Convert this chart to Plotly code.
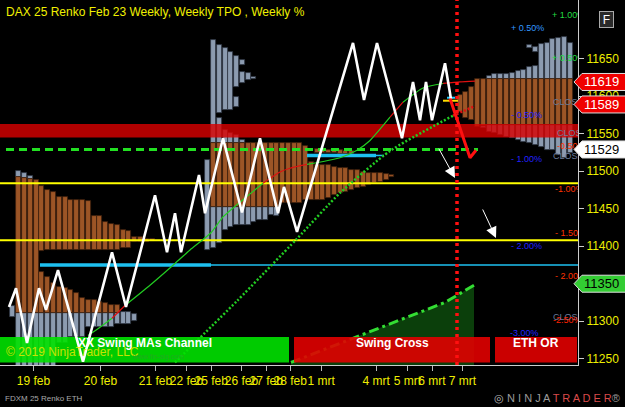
import plotly.graph_objects as go

FONT = "Arial, 'Liberation Sans', sans-serif"
YEL = "#eeee00"

# ---------------- axes ----------------
Y_MIN, Y_MAX = 11241.6, 11728.3
X_MAX = 578
price_ticks = [11250, 11300, 11350, 11400, 11450, 11500, 11550, 11600, 11650]
date_ticks = [33.5, 100.4, 155.4, 186.5, 211.2, 241.5, 266.2, 290.2, 321.2, 376.2, 407.3, 432.0, 462.3]
date_labels = ["19 feb", "20 feb", "21 feb", "22 feb", "25 feb", "26 feb", "27 feb",
               "28 feb", "1 mrt", "4 mrt", "5 mrt", "6 mrt", "7 mrt"]

# ---------------- series ----------------
swing_x = [9, 16, 27, 39, 46, 58, 83, 112, 126, 155, 167, 175, 181, 199, 205, 223, 242, 260,
           278, 284, 297, 353, 364, 377, 402, 413, 420, 426, 432, 445, 451]
swing_price = [11319, 11344, 11271, 11344, 11315, 11368, 11246, 11392, 11319, 11468, 11392,
               11444, 11392, 11495, 11444, 11544, 11445, 11544, 11444, 11479, 11419, 11671,
               11595, 11671, 11544, 11619, 11568, 11619, 11568, 11644, 11596]

ma_x = [88, 100, 112, 125, 150, 175, 190, 211, 223, 243, 263, 280, 290, 307, 340, 357, 370,
        390, 403, 423, 443, 460, 475]
ma_price = [11281, 11292, 11304, 11321, 11348, 11377, 11395, 11418, 11439, 11462, 11484, 11499,
            11504, 11509, 11518, 11528, 11541, 11572, 11592, 11611, 11617, 11619, 11620]
ma_seg = ["g", "g", "r", "g", "g", "g", "g", "g", "g", "g", "r", "r", "r", "g", "g", "g", "g",
          "r", "g", "g", "r", "r"]

dot_x = [175, 237, 297, 340, 390, 453, 475]
dot_price = [11245, 11327, 11410, 11471, 11527, 11574, 11587]
dot_seg = ["g", "g", "g", "g", "g", "r"]

dd_x = [291, 357, 445, 474]
dd_price = [11245, 11279, 11325, 11348]

band_lo, band_hi = 11545, 11563
yellow_levels = [11484, 11408]
cyan_level, cyan_x = 11375, [40, 211, 578]
cyan2_level, cyan2_x = 11521, [307, 376, 384]
green_dash_level, green_dash_x = 11529, [6, 478]
cross_x = 457
red_v_x = [450, 470, 476]
red_v_price = [11597, 11518, 11528]
marker_yellow_x, marker_yellow_price = [443, 458], 11594
marker_cyan_x, marker_cyan_price = [447, 455], 11598

# ---------------- TPO profiles (segments: x, top, bottom) ----------------
p1_brown_x = [18.6, 24.4, 30.2, 36.0, 41.8, 47.6, 53.4, 59.2, 65.0, 70.8, 76.6, 82.4, 88.2, 94.0,
              99.8, 105.6, 111.4, 117.2, 123.0, 128.8, 134.6, 140.4, 146.2, 152.0,
              41.8, 47.6, 53.4, 59.2, 65.0, 70.8, 76.6, 82.4, 88.2, 94.0, 99.8, 105.6, 111.4, 117.2]
p1_brown_top = [11492, 11491, 11490, 11488, 11480, 11475, 11472, 11465, 11465, 11462, 11462,
                11462, 11460, 11440, 11440, 11432, 11430, 11428, 11422, 11420, 11412, 11412,
                11410, 11410,
                11366, 11359, 11351, 11346, 11344, 11342, 11338, 11331, 11328, 11328, 11325,
                11324, 11321, 11321]
p1_brown_bot = [11311, 11311, 11311, 11311, 11394, 11395, 11395, 11395, 11395, 11395, 11395,
                11395, 11395, 11395, 11395, 11395, 11395, 11395, 11398, 11398, 11405, 11406,
                11406, 11407,
                11311, 11311, 11311, 11311, 11311, 11311, 11311, 11311, 11311, 11311, 11311,
                11311, 11311, 11311]
p1_gray_x = [12.9, 18.6, 24.4, 30.2, 18.6, 24.4, 30.2, 36.0, 41.8, 47.6, 53.4, 59.2, 65.0, 70.8,
             76.6, 82.4, 88.2, 94.0, 99.8, 105.6, 111.4, 117.2, 123.0, 128.8, 134.6]
p1_gray_top = [11320, 11500, 11497, 11494, 11311, 11311, 11311, 11311, 11311, 11311, 11311,
               11311, 11311, 11311, 11311, 11311, 11311, 11311, 11311, 11311, 11311, 11311,
               11312, 11312, 11310]
p1_gray_bot = [11305, 11492, 11491, 11490, 11235, 11235, 11235, 11235, 11235, 11235, 11235,
               11271, 11271, 11279, 11279, 11279, 11292, 11292, 11292, 11292, 11292, 11296,
               11296, 11296, 11300]

p2_brown_x = [213.6, 219.4, 225.1, 230.9, 236.6, 242.4, 248.1, 253.9, 259.6, 265.4, 271.1, 276.9,
              282.6, 288.4, 294.1, 299.9, 305.6, 311.4, 317.1, 322.9, 328.6, 334.4, 340.1, 345.9,
              351.6, 357.4, 363.1, 368.9, 374.6, 380.4, 386.1, 391.9,
              317.1, 322.9, 328.6, 334.4, 340.1, 345.9, 351.6]
p2_brown_top = [11538, 11538, 11538, 11538, 11538, 11538, 11538, 11538, 11538, 11538, 11538,
                11538, 11538, 11538, 11538, 11538, 11533, 11512, 11508, 11508, 11508, 11505,
                11504, 11504, 11502, 11502, 11499, 11498, 11498, 11498, 11496, 11495,
                11530, 11530, 11528, 11528, 11528, 11527, 11527]
p2_brown_bot = [11452, 11452, 11452, 11452, 11452, 11452, 11452, 11452, 11452, 11452, 11452,
                11452, 11458, 11458, 11458, 11458, 11462, 11462, 11462, 11462, 11464, 11468,
                11471, 11472, 11475, 11478, 11479, 11482, 11484, 11485, 11488, 11492,
                11524, 11524, 11524, 11524, 11523, 11523, 11523]
p2_gray_x = [207.9, 213.6, 213.6, 219.4, 219.4, 219.4, 225.1, 225.1, 225.1, 230.9, 230.9, 230.9,
             236.6, 236.6, 236.6, 236.6, 242.4, 242.4, 242.4, 242.4, 248.1, 248.1, 253.9, 253.9,
             259.6, 265.4, 271.1, 276.9]
p2_gray_top = [11515, 11675, 11452, 11668, 11571, 11452, 11664, 11555, 11452, 11659, 11551, 11452,
               11654, 11599, 11548, 11452, 11648, 11632, 11542, 11452, 11631, 11452, 11626, 11452,
               11452, 11452, 11452, 11452]
p2_gray_bot = [11395, 11538, 11398, 11578, 11538, 11404, 11582, 11538, 11422, 11582, 11538, 11425,
               11612, 11586, 11538, 11428, 11642, 11618, 11538, 11428, 11622, 11428, 11623, 11432,
               11435, 11435, 11442, 11440]

p3_brown_x = [460.0, 465.8, 471.6, 477.4, 483.2, 489.0, 494.8, 500.6, 506.4, 512.2, 518.0, 523.8,
              529.6, 535.4, 541.2, 547.0, 552.8, 558.6, 564.4, 570.2]
p3_brown_top = [11602, 11605, 11612, 11623, 11623, 11623, 11623, 11623, 11623, 11623, 11623,
                11623, 11623, 11623, 11623, 11623, 11623, 11623, 11623, 11623]
p3_brown_bot = [11579, 11571, 11568, 11559, 11560, 11562, 11562, 11562, 11562, 11562, 11562,
                11562, 11562, 11562, 11562, 11562, 11562, 11562, 11562, 11562]
p3_gray_x = [489.0, 494.8, 500.6, 506.4, 512.2, 518.0, 523.8, 529.6, 535.4, 541.2, 547.0, 552.8,
             558.6, 564.4, 570.2, 529.6, 535.4,
             483.2, 489.0, 494.8, 500.6, 506.4, 512.2, 518.0, 523.8, 529.6, 535.4, 541.2, 547.0,
             552.8, 558.6, 564.4, 570.2]
p3_gray_top = [11627, 11630, 11630, 11630, 11631, 11634, 11635, 11639, 11640, 11670, 11671, 11676,
               11678, 11679, 11671, 11668, 11666,
               11560, 11562, 11562, 11562, 11562, 11562, 11562, 11562, 11562, 11562, 11562, 11562,
               11562, 11562, 11562, 11562]
p3_gray_bot = [11623, 11623, 11623, 11623, 11623, 11623, 11623, 11623, 11623, 11623, 11623, 11623,
               11623, 11623, 11623, 11664, 11659,
               11558, 11552, 11551, 11548, 11545, 11544, 11542, 11539, 11538, 11535, 11532, 11528,
               11528, 11522, 11518, 11524]

# ---------------- indicator boxes ----------------
box_x0 = [0, 294, 495]
box_x1 = [289, 490, 577]
box_lo, box_hi = 11245, 11279
box_fill = ["rgba(0,225,0,0.9)", "rgba(225,0,0,0.9)", "rgba(225,0,0,0.9)"]
box_labels = ["XX Swing MAs Channel", "Swing Cross", "ETH OR"]
box_label_x = [145, 392, 536]
box_label_price = 11271

# ---------------- level labels ----------------
pct_text = ["+ 1.00%", "+ 0.50%", "+ 0.50%", "- 0.50%", "-0.50%", "- 1.00%", "-1.00%",
            "- 1.50%", "- 2.00%", "- 2.00%", "-2.50%", "-3.00%"]
pct_x = [552, 511, 552, 511, 557, 511, 555, 555, 511, 555, 553, 510]
pct_price = [11707, 11690, 11650, 11574, 11532, 11515, 11475, 11416, 11399, 11359, 11301, 11283]
pct_color = ["#22dd44", "#3399ff", "#22dd44", "#2222ff", "#ff3300", "#2222ff", "#ff3300",
             "#ff3300", "#2222ff", "#ff3300", "#ff2200", "#2222ff"]
close_x = [553, 557, 553, 553]
close_price = [11591, 11550, 11519, 11304]

right_labels = ["11619", "11589", "11529", "11350"]
right_price = [11619, 11589, 11529, 11350]
right_bg = ["#f00000", "#f00000", "#ffffff", "#33cc33"]
right_fg = ["#ffffff", "#ffffff", "#000000", "#000000"]

arrow_tail_x = [438, 482]
arrow_tail_price = [11532, 11451]
arrow_head_x = [455, 496]
arrow_head_price = [11491, 11411]

fig = go.Figure()

GREEN_FILL = "rgba(12,70,12,0.9)"
fig.add_trace(go.Scatter(x=dd_x, y=dd_price, mode="lines", line=dict(width=0),
                         fill="tozeroy", fillcolor=GREEN_FILL, hoverinfo="skip"))

BROWN = "#9c5526"
BROWN_EDGE = "#3c200c"
GRAY = "#8c9bb0"
GRAY_EDGE = "#2e3642"


def add_bars(xs, tops, bots, color, edge):
    fig.add_trace(go.Bar(x=xs, y=[t - b for t, b in zip(tops, bots)], base=bots, width=5.0,
                         marker=dict(color=color, line=dict(color=edge, width=0.8)),
                         hoverinfo="skip"))


add_bars(p1_gray_x, p1_gray_top, p1_gray_bot, GRAY, GRAY_EDGE)
add_bars(p1_brown_x, p1_brown_top, p1_brown_bot, BROWN, BROWN_EDGE)
add_bars(p2_gray_x, p2_gray_top, p2_gray_bot, GRAY, GRAY_EDGE)
add_bars(p2_brown_x, p2_brown_top, p2_brown_bot, BROWN, BROWN_EDGE)
add_bars(p3_gray_x, p3_gray_top, p3_gray_bot, GRAY, GRAY_EDGE)
add_bars(p3_brown_x, p3_brown_top, p3_brown_bot, BROWN, BROWN_EDGE)

# red band
fig.add_trace(go.Scatter(x=[0, X_MAX, X_MAX, 0], y=[band_lo, band_lo, band_hi, band_hi],
                         mode="lines", line=dict(width=0), fill="toself",
                         fillcolor="rgba(215,0,0,0.82)", hoverinfo="skip"))

# level lines
for lv in yellow_levels:
    fig.add_trace(go.Scatter(x=[0, X_MAX], y=[lv, lv], mode="lines",
                             line=dict(color="#ffff00", width=2), hoverinfo="skip"))
fig.add_trace(go.Scatter(x=cyan_x[:2], y=[cyan_level] * 2, mode="lines",
                         line=dict(color="#1ec0f0", width=3.5), hoverinfo="skip"))
fig.add_trace(go.Scatter(x=cyan_x[1:], y=[cyan_level] * 2, mode="lines",
                         line=dict(color="#1ec0f0", width=1.5), hoverinfo="skip"))
fig.add_trace(go.Scatter(x=cyan2_x[:2], y=[cyan2_level] * 2, mode="lines",
                         line=dict(color="#1ec0f0", width=3.5), hoverinfo="skip"))
fig.add_trace(go.Scatter(x=cyan2_x[1:], y=[cyan2_level] * 2, mode="lines",
                         line=dict(color="#1ec0f0", width=1.5), hoverinfo="skip"))
fig.add_trace(go.Scatter(x=green_dash_x, y=[green_dash_level] * 2, mode="lines",
                         line=dict(color="#22e022", width=3, dash="8px,5px"), hoverinfo="skip"))

# moving averages
fig.add_trace(go.Scatter(x=dd_x, y=dd_price, mode="lines",
                         line=dict(color="#33dd33", width=3, dash="10px,4px,3px,4px"),
                         hoverinfo="skip"))


def add_segments(xs, ps, segs, width, dash):
    cols = {"g": "#22cc22", "r": "#e01010"}
    i = 0
    while i < len(segs):
        j = i
        while j + 1 < len(segs) and segs[j + 1] == segs[i]:
            j += 1
        fig.add_trace(go.Scatter(x=xs[i:j + 2], y=ps[i:j + 2], mode="lines",
                                 line=dict(color=cols[segs[i]], width=width, dash=dash,
                                           shape="spline", smoothing=0.6),
                                 hoverinfo="skip"))
        i = j + 1


add_segments(dot_x, dot_price, dot_seg, 2.5, "2px,2px")
add_segments(ma_x, ma_price, ma_seg, 1.2, "solid")

# indicator boxes
for x0, x1, fc in zip(box_x0, box_x1, box_fill):
    fig.add_trace(go.Scatter(x=[x0, x1, x1, x0], y=[box_lo, box_lo, box_hi, box_hi],
                             mode="lines", line=dict(width=0), fill="toself", fillcolor=fc,
                             hoverinfo="skip"))

# small markers near last brick
fig.add_trace(go.Scatter(x=marker_yellow_x, y=[marker_yellow_price] * 2, mode="lines",
                         line=dict(color="#ffdd00", width=2), hoverinfo="skip"))
fig.add_trace(go.Scatter(x=marker_cyan_x, y=[marker_cyan_price] * 2, mode="lines",
                         line=dict(color="#22ccff", width=2), hoverinfo="skip"))

# vertical red dotted line
fig.add_trace(go.Scatter(x=[cross_x, cross_x], y=[Y_MIN, Y_MAX], mode="lines",
                         line=dict(color="#ff1010", width=3.5, dash="3px,4px"), hoverinfo="skip"))

# white swing line
fig.add_trace(go.Scatter(x=swing_x, y=swing_price, mode="lines",
                         line=dict(color="#ffffff", width=2.6), hoverinfo="skip"))

# red projection
fig.add_trace(go.Scatter(x=red_v_x, y=red_v_price, mode="lines",
                         line=dict(color="#ff1010", width=3), hoverinfo="skip"))

# level texts (clipped to plot)
fig.add_trace(go.Scatter(x=close_x, y=close_price, mode="text", text=["CLOSE"] * len(close_x),
                         textposition="middle right", cliponaxis=True,
                         textfont=dict(family=FONT, size=9, color="#6a7a98"), hoverinfo="skip"))
fig.add_trace(go.Scatter(x=pct_x, y=pct_price, mode="text", text=pct_text,
                         textposition="middle right", cliponaxis=True,
                         textfont=dict(family=FONT, size=9, color=pct_color), hoverinfo="skip"))

# box labels
for lbl, lx in zip(box_labels, box_label_x):
    fig.add_annotation(x=lx, y=box_label_price, xref="x", yref="y", text="<b>" + lbl + "</b>",
                       showarrow=False, font=dict(family=FONT, size=12, color="white"))
fig.add_annotation(x=4 / X_MAX, y=11259, xref="paper", yref="y", xanchor="left",
                   text="© 2019 NinjaTrader, LLC", showarrow=False, opacity=0.85,
                   font=dict(family=FONT, size=12, color="#e8e800"))
fig.add_annotation(x=130 / X_MAX, y=11252, xref="paper", yref="y", xanchor="left",
                   text="www.fin-alg.com", showarrow=False,
                   font=dict(family=FONT, size=7, color="#22aa22"))

# white arrows
for tx, tp, hx, hp in zip(arrow_tail_x, arrow_tail_price, arrow_head_x, arrow_head_price):
    fig.add_annotation(x=hx, y=hp, ax=tx, ay=tp, xref="x", yref="y", axref="x", ayref="y",
                       text="", showarrow=True, arrowhead=2, arrowsize=2.2, arrowwidth=1,
                       arrowcolor="white")

# right price labels
for lbl, pr, bg, fg in zip(right_labels, right_price, right_bg, right_fg):
    yp = (pr - Y_MIN) / (Y_MAX - Y_MIN)
    h = 8.5 / 365.0
    fig.add_shape(type="path", xref="paper", yref="paper",
                  path=f"M {574 / X_MAX},{yp} L {582 / X_MAX},{yp + h} L {626 / X_MAX},{yp + h} "
                       f"L {626 / X_MAX},{yp - h} L {582 / X_MAX},{yp - h} Z",
                  fillcolor=bg, line=dict(color="#dddddd", width=1), layer="above")
    fig.add_annotation(x=621 / X_MAX, y=pr, xref="paper", yref="y", xanchor="right",
                       text=lbl, showarrow=False,
                       font=dict(family=FONT, size=13, color=fg))

# title and misc text
fig.add_annotation(x=4 / X_MAX, y=1 - 12 / 365, xref="paper", yref="paper", xanchor="left",
                   yanchor="middle", showarrow=False,
                   text="DAX 25 Renko Feb 23 Weekly, Weekly TPO , Weekly %",
                   font=dict(family=FONT, size=12, color="#f0f000"))
fig.add_annotation(x=614 / X_MAX, y=1 - 11 / 365, xref="paper", yref="paper", text="F",
                   showarrow=False, bgcolor="#2a2a2a", bordercolor="#aaaaaa", borderwidth=1,
                   width=11, height=13, font=dict(family=FONT, size=12, color="white"))
fig.add_annotation(x=3 / X_MAX, y=-(398 - 365) / 365, xref="paper", yref="paper",
                   xanchor="left", yanchor="middle", showarrow=False, text="FDXM 25 Renko ETH",
                   font=dict(family=FONT, size=8, color="#aaaaaa"))
fig.add_annotation(x=622 / X_MAX, y=-(398 - 365) / 365, xref="paper", yref="paper",
                   xanchor="right", yanchor="middle", showarrow=False,
                   text="<span style='color:#bbbbbb'>◎</span> "
                        "<span style='color:#9a9a9a'>N I N J A </span>"
                        "<span style='color:#d84a4a'>T R A D E R</span>"
                        "<span style='color:#9a9a9a'>®</span>",
                   font=dict(family=FONT, size=11, color="#9a9a9a"))

fig.update_layout(
    width=625, height=407,
    margin=dict(l=0, r=47, t=0, b=42, autoexpand=False),
    paper_bgcolor="#000000", plot_bgcolor="#000000",
    showlegend=False, barmode="overlay", bargap=0,
    xaxis=dict(range=[0, X_MAX], tickmode="array", tickvals=date_ticks, ticktext=date_labels,
               tickangle=0, ticks="outside", ticklen=5, tickcolor="#bbbbbb",
               showline=True, linecolor="#cccccc", linewidth=1, showgrid=False,
               zeroline=False, automargin=False, fixedrange=True,
               tickfont=dict(family=FONT, size=12, color=YEL)),
    yaxis=dict(range=[Y_MIN, Y_MAX], side="right", tickmode="array", tickvals=price_ticks,
               tickformat="d", ticks="outside", ticklen=5, tickcolor="#cccccc", showline=True,
               linecolor="#cccccc", linewidth=1, showgrid=False, zeroline=False,
               automargin=False, fixedrange=True,
               tickfont=dict(family=FONT, size=12, color=YEL)),
)

fig.write_html("out.html")
